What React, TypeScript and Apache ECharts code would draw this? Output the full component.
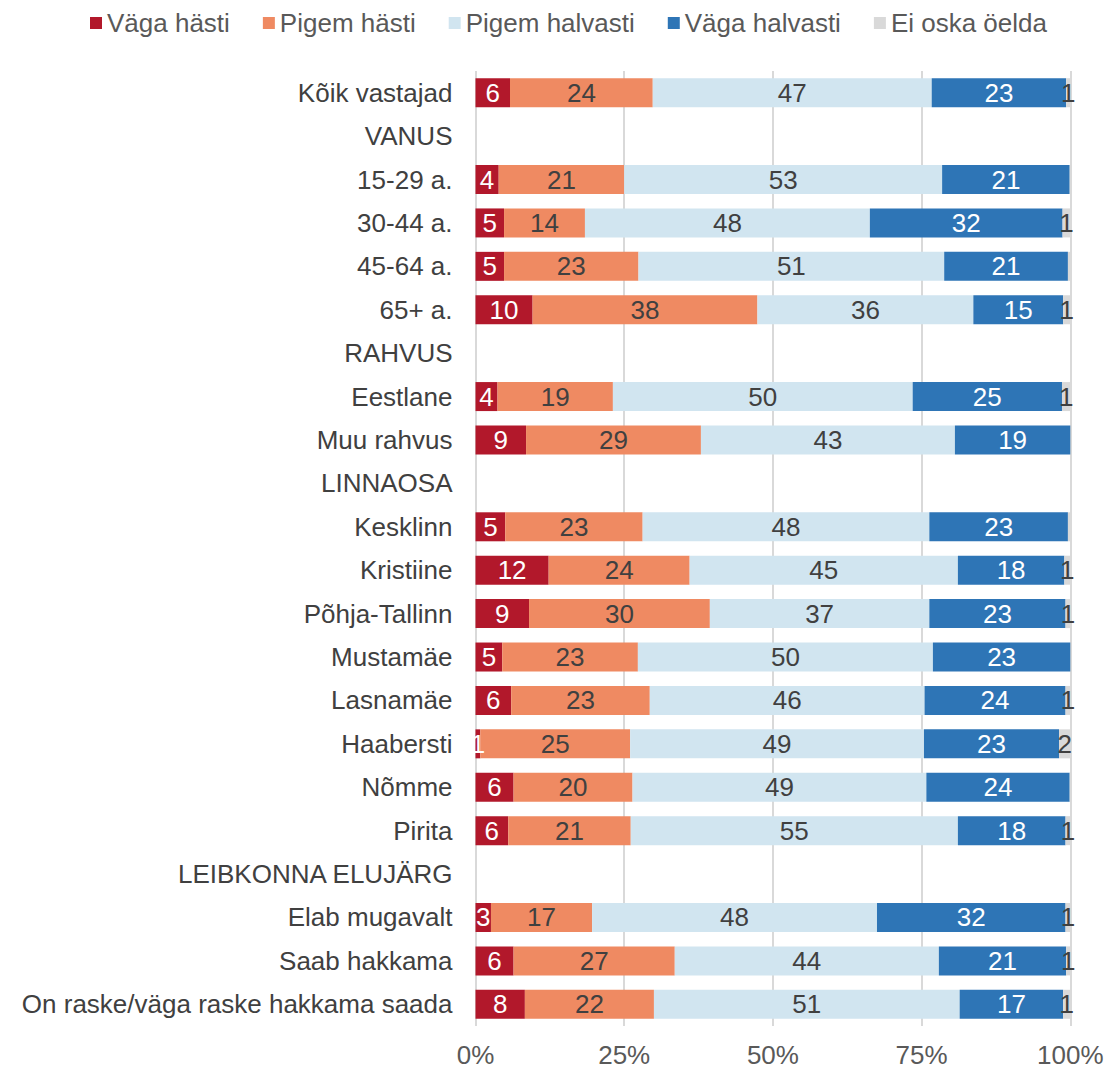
import React, { useEffect, useRef } from "react";
import * as echarts from "echarts";

const categories = [
  "Kõik vastajad",
  "VANUS",
  "15-29 a.",
  "30-44 a.",
  "45-64 a.",
  "65+ a.",
  "RAHVUS",
  "Eestlane",
  "Muu rahvus",
  "LINNAOSA",
  "Kesklinn",
  "Kristiine",
  "Põhja-Tallinn",
  "Mustamäe",
  "Lasnamäe",
  "Haabersti",
  "Nõmme",
  "Pirita",
  "LEIBKONNA ELUJÄRG",
  "Elab mugavalt",
  "Saab hakkama",
  "On raske/väga raske hakkama saada",
];

const seriesNames = ["Väga hästi", "Pigem hästi", "Pigem halvasti", "Väga halvasti", "Ei oska öelda"];

const vagaHasti = [5.8, null, 3.9, 4.8, 4.8, 9.6, null, 3.7, 8.5, null, 5.0, 12.3, 9.0, 4.5, 6.0, 0.8, 6.4, 5.5, null, 2.6, 6.4, 8.3];
const pigemHasti = [24.0, null, 21.1, 13.6, 22.6, 37.8, null, 19.4, 29.4, null, 23.1, 23.7, 30.4, 22.8, 23.3, 25.2, 20.0, 20.6, null, 17.0, 27.1, 21.7];
const pigemHalvasti = [46.9, null, 53.45, 47.9, 51.4, 36.3, null, 50.4, 42.7, null, 48.2, 45.1, 36.9, 49.6, 46.2, 49.4, 49.4, 55.0, null, 47.9, 44.4, 51.4];
const vagaHalvasti = [22.6, null, 21.45, 32.4, 20.8, 15.1, null, 25.1, 19.4, null, 23.3, 17.9, 22.9, 23.1, 23.7, 22.7, 24.1, 18.1, null, 31.7, 21.4, 17.4];
const eiOska = [0.7, null, 0.1, 1.3, 0.4, 1.2, null, 1.4, 0, null, 0.4, 1.0, 0.8, 0, 0.8, 1.9, 0.1, 0.8, null, 0.8, 0.7, 1.2];

const colors = ["#B2182B", "#EF8A62", "#D1E5F0", "#2E75B6", "#D9D9D9"];
const labelColors = ["#FFFFFF", "#404040", "#404040", "#FFFFFF", "#404040"];

const FONT = "'Liberation Sans', Arial, sans-serif";
const FS = 26;

export default function App() {
  const ref = useRef<HTMLDivElement>(null);
  useEffect(() => {
    if (!ref.current) return;
    const chart = echarts.init(ref.current, null, { renderer: "svg" });
    const allData = [vagaHasti, pigemHasti, pigemHalvasti, vagaHalvasti, eiOska];
    chart.setOption({
      animation: false,
      textStyle: { fontFamily: FONT },
      legend: {
        left: 85,
        top: 5,
        itemWidth: 12,
        itemHeight: 12,
        itemGap: 33,
        icon: "rect",
        textStyle: { fontSize: FS, color: "#595959", fontFamily: FONT },
        data: seriesNames,
      },
      grid: { left: 475.5, right: 36.7, top: 71, bottom: 43, containLabel: false },
      xAxis: {
        type: "value",
        min: 0,
        max: 100,
        interval: 25,
        axisLine: { show: false },
        axisTick: { show: false },
        axisLabel: { formatter: "{value}%", fontSize: FS, color: "#595959", margin: 16, fontFamily: FONT },
        splitLine: { lineStyle: { color: "#D9D9D9", width: 2 } },
      },
      yAxis: {
        type: "category",
        inverse: true,
        data: categories,
        axisLine: { show: false },
        axisTick: { show: false },
        axisLabel: { fontSize: FS, color: "#404040", margin: 23, fontFamily: FONT },
      },
      series: seriesNames.map((name, i) => ({
        name,
        type: "bar",
        stack: "total",
        barWidth: 29,
        data: allData[i],
        itemStyle: { color: colors[i] },
        label: {
          show: true,
          position: "inside",
          fontSize: FS,
          fontFamily: FONT,
          color: labelColors[i],
          formatter: (p: any) =>
            p.value == null || Math.round(p.value) < 1 ? "" : String(Math.round(p.value)),
        },
      })),
    });
    return () => chart.dispose();
  }, []);
  return (
    <div
      ref={ref}
      style={{ position: "fixed", left: 0, top: 0, width: 1107, height: 1069, background: "#fff" }}
    />
  );
}
